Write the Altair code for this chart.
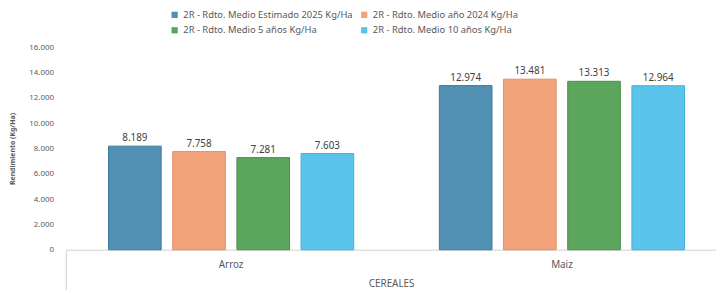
import altair as alt
import pandas as pd

categories = ["Arroz", "Maiz"]
series = [
    "2R - Rdto. Medio Estimado 2025 Kg/Ha",
    "2R - Rdto. Medio año 2024 Kg/Ha",
    "2R - Rdto. Medio 5 años Kg/Ha",
    "2R - Rdto. Medio 10 años Kg/Ha",
]
arroz_values = [8189, 7758, 7281, 7603]
maiz_values = [12974, 13481, 13313, 12964]
colors = ["#5190b2", "#f2a37c", "#5ba65c", "#5ac4ec"]
strokes = ["#3f7a9a", "#e08e66", "#468f48", "#3fb0da"]

rows = []
for cat, vals in zip(categories, [arroz_values, maiz_values]):
    for s, v in zip(series, vals):
        rows.append({"cat": cat, "serie": s, "valor": v})
df = pd.DataFrame(rows)

# legend is laid out column by column: order entries so rows read 2025|2024, 5|10
legend_order = [0, 2, 1, 3]
legend_domain = [series[i] for i in legend_order]
legend_colors = [colors[i] for i in legend_order]
legend_strokes = [strokes[i] for i in legend_order]

W, H = 658, 205
FONT = "Noto Sans"
GREY = "#595959"

x = alt.X("cat:N", sort=categories,
          scale=alt.Scale(paddingInner=0.224, paddingOuter=0.094, align=0.587),
          axis=alt.Axis(title="CEREALES", labelAngle=0, ticks=False, domainColor="#d0d0d0",
                        labelFontSize=10, labelColor=GREY, labelPadding=10, labelFont=FONT,
                        titleFontSize=10, titleColor=GREY, titleFont=FONT, titleFontWeight="normal",
                        titlePadding=9))
xo = alt.XOffset("serie:N", sort=series, scale=alt.Scale(paddingInner=0.18, paddingOuter=0.09))
y = alt.Y("valor:Q", scale=alt.Scale(domain=[0, 16000]),
          axis=alt.Axis(title="Rendimiento (Kg/Ha)", values=list(range(0, 16001, 2000)),
                        labelExpr="replace(format(datum.value, ','), ',', '.')",
                        grid=False, ticks=False, domain=False, labelPadding=13,
                        labelFontSize=8, labelColor=GREY, labelFont=FONT,
                        titleFontSize=7, titleColor=GREY, titleFont=FONT, titleFontWeight="bold",
                        titlePadding=13))

bars = alt.Chart(df).mark_bar(strokeWidth=1).encode(
    x=x, xOffset=xo, y=y,
    color=alt.Color("serie:N", scale=alt.Scale(domain=legend_domain, range=legend_colors),
                    legend=alt.Legend(title=None, orient="none", legendX=105, legendY=-38,
                                      columns=2, columnPadding=6, rowPadding=5,
                                      symbolType="square", symbolSize=40, symbolStrokeWidth=0,
                                      labelFontSize=9.5, labelColor=GREY, labelFont=FONT,
                                      labelLimit=400)),
    stroke=alt.Stroke("serie:N", scale=alt.Scale(domain=legend_domain, range=legend_strokes), legend=None),
)

labels = alt.Chart(df).transform_calculate(
    lbl="replace(format(datum.valor, ','), ',', '.')"
).mark_text(dy=-8, fontSize=10, color="#404040", font=FONT).encode(
    x=x, xOffset=xo, y=y, text="lbl:N"
)

divider = alt.Chart(pd.DataFrame({"a": [0]})).mark_rule(color="#d0d0d0", clip=False).encode(
    x=alt.value(0), y=alt.value(H), y2=alt.value(H + 41)
)

chart = alt.layer(bars, labels, divider).properties(
    width=W, height=H, padding={"left": 0, "top": 0, "right": 0, "bottom": 0}
).configure_view(stroke=None)

chart.save("out.html", embed_options={"renderer": "svg", "actions": False})
